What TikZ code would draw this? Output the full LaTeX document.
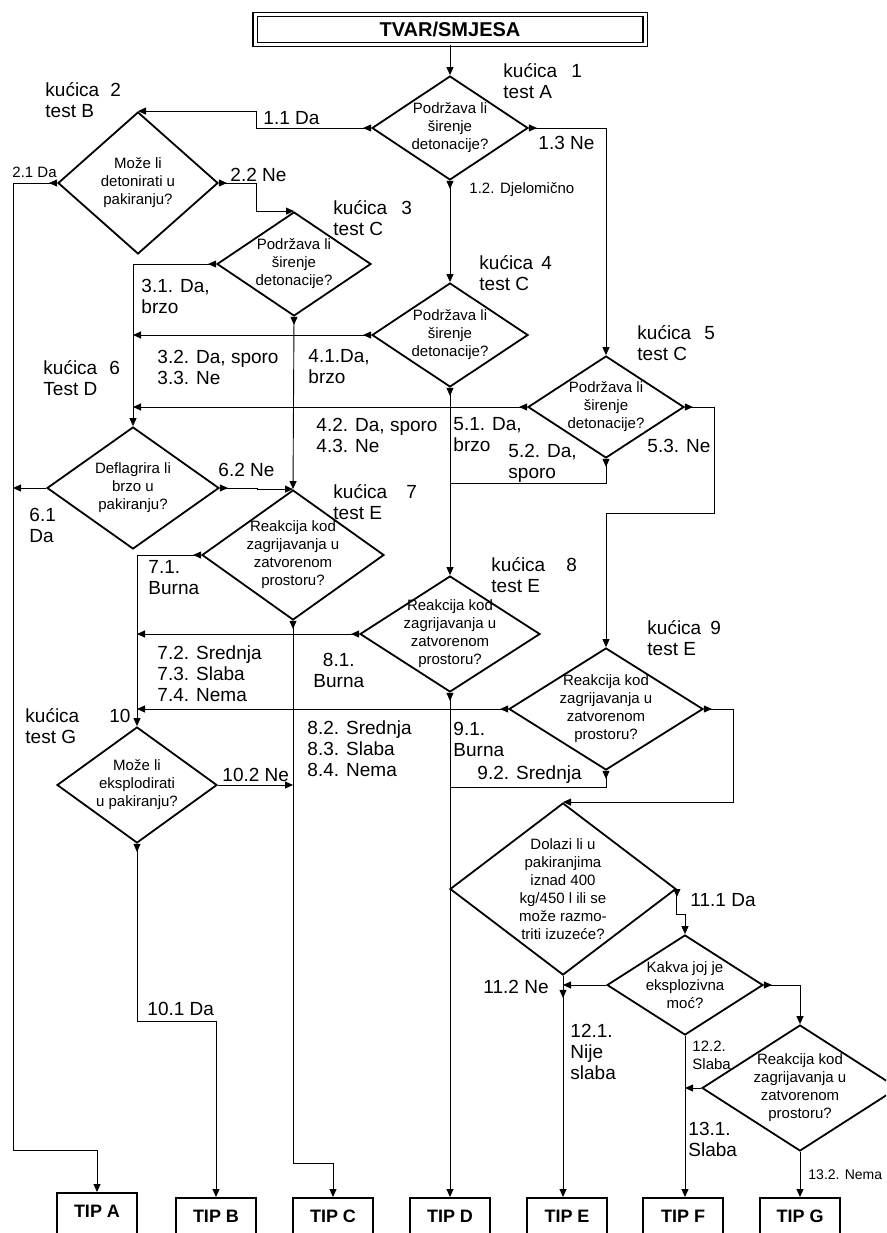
\documentclass[tikz,border=0pt]{standalone}
\usepackage{fontspec}
\setmainfont{Liberation Sans}
\usetikzlibrary{shapes.geometric,arrows.meta,decorations.markings}
\tikzset{
  titlebox/.style={draw, double, double distance=3pt, line width=1.2pt, minimum width=390pt,
    minimum height=30pt, inner sep=0pt, font=\bfseries\fontsize{20}{22}\selectfont},
  dia/.style 2 args={diamond, draw, line width=1.8pt, inner sep=-20pt, align=center,
    minimum width=#1, minimum height=#2, font=\fontsize{15}{18}\selectfont},
  tipbox/.style={draw, line width=1.5pt, anchor=north, minimum width=80pt, inner xsep=0pt,
    inner ysep=12pt, text height=13pt, text depth=40pt, font=\bfseries\fontsize{18}{20}\selectfont},
  lab/.style={anchor=west, align=left, inner sep=0pt, font=\fontsize{19}{21}\selectfont},
  slab/.style={anchor=west, align=left, inner sep=0pt, font=\fontsize{15}{18}\selectfont},
  exitat/.style={postaction={decorate, decoration={markings,
    mark=at position #1 with {\arrow{Triangle[length=8pt,width=7pt]}}}}},
  exit/.style={exitat=8pt}
}
\begin{document}
\begin{tikzpicture}[x=1pt, y=-1pt, line width=0.9pt, >={Triangle[length=8pt,width=7pt]}]
\useasboundingbox (0,0) rectangle (886,1233);
\clip (0,0) rectangle (886,1233);
% pocetak
\node[titlebox] (title) at (450,29.5) {TVAR/SMJESA};
% kucice
\node[dia={156pt}{104pt}] (d1) at (450,128) {Podržava li\\širenje\\detonacije?};
\node[dia={160pt}{142pt}] (d2) at (138,183) {Može li\\detonirati u\\pakiranju?};
\node[dia={154pt}{104pt}] (d3) at (294,264) {Podržava li\\širenje\\detonacije?};
\node[dia={156pt}{104pt}] (d4) at (450,335) {Podržava li\\širenje\\detonacije?};
\node[dia={156pt}{102pt}] (d5) at (606,407) {Podržava li\\širenje\\detonacije?};
\node[dia={172pt}{122pt}] (d6) at (133,488) {Deflagrira li\\brzo u\\pakiranju?};
\node[dia={182pt}{130pt}] (d7) at (293,555) {Reakcija kod\\zagrijavanja u\\zatvorenom\\prostoru?};
\node[dia={180pt}{116pt}] (d8) at (450,634) {Reakcija kod\\zagrijavanja u\\zatvorenom\\prostoru?};
\node[dia={194pt}{122pt}] (d9) at (606,709) {Reakcija kod\\zagrijavanja u\\zatvorenom\\prostoru?};
\node[dia={160pt}{116pt}] (d10) at (137,785) {Može li\\eksplodirati\\u pakiranju?};
\node[dia={226pt}{172pt}] (d11) at (563,889) {Dolazi li u\\pakiranjima\\iznad 400\\kg/450 l ili se\\može razmo-\\triti izuzeće?};
\node[dia={156pt}{100pt}] (d12) at (685,985) {Kakva joj je\\eksplozivna\\moć?};
\node[dia={196pt}{126pt}] (d13) at (800,1088) {Reakcija kod\\zagrijavanja u\\zatvorenom\\prostoru?};
% tipovi
\node[tipbox] (tipA) at (97,1192) {TIP A};
\node[tipbox] (tipB) at (216,1197) {TIP B};
\node[tipbox] (tipC) at (333,1197) {TIP C};
\node[tipbox] (tipD) at (450,1197) {TIP D};
\node[tipbox] (tipE) at (567,1197) {TIP E};
\node[tipbox] (tipF) at (683,1197) {TIP F};
\node[tipbox] (tipG) at (800,1197) {TIP G};
\coordinate (railA) at (13,1150);
\coordinate (railC) at (293,1163);
% veze
\draw[->] (title) -- (d1.north);
\draw[exit,->] (d1.west) -- ++(-115,0) |- (d2.north);
\draw[exit,->] (d1.south) -- (d4.north);
\draw[exit,->] (d1.east) -| (d5.north);
\draw[exit,->] (d2.west) -| (railA) -| (tipA.north);
\draw[exit,->] (d2.east) -- ++(38,0) |- (d3.north);
\draw[exit,->] (d3.west) -| (d6.north);
\draw[exit,->] (d3.south) -- (d7.north);
\draw[exit,->] (d4.west) -- (d4.west -| d6.north);
\draw[exit,->] (d4.south) -- (d8.north);
\draw[exit,->] (d5.west) -- (d5.west -| d6.north);
\draw[exit] (d5.south) -- ++(0,25) -- ++(-156,0);
\draw[exit,->] (d5.east) -- ++(30,0) -- ++(0,106) -| (d9.north);
\draw[->] (d6.west) -- (d6.west -| railA);
\draw[exit,->] (d6.east) -- ++(38,0) |- (d7.north);
\draw[exit,->] (d7.west) -| (d10.north);
\draw[exit,->] (d7.south) -- (railC) -| (tipC.north);
\draw[exit,->] (d8.west) -- (d8.west -| d10.north);
\draw[exit,->] (d8.south) -- (d8.south |- tipD.north);
\draw[exit,->] (d9.west) -- (d9.west -| d10.north);
\draw[exit] (d9.south) -- ++(0,17) -- ++(-156,0);
\draw[exit,->] (d9.east) -- ++(30,0) |- (d11.north);
\draw[exit,->] (d10.south) -- ++(0,178) -| (tipB.north);
\draw[->] (d10.east) -- (d10.east -| railC);
\draw[exit,->] (d11.east) -- ++(0,25) -| (d12.north);
\draw[exitat=22pt,->] (d11.south) -- (d11.south |- tipE.north);
\draw[->] (d12.west) -- (d12.west -| d11.south);
\draw[->] (d12.south) -- (d12.south |- tipF.north);
\draw[exit,->] (d12.east) -| (d13.north);
\draw[->] (d13.west) -- (d13.west -| d12.south);
\draw[->] (d13.south) -- (d13.south |- tipG.north);
% oznake kucica
\node[lab] (k1) at (503,81) {kućica\hspace{14pt}1\\test A};
\node[lab] (k2) at (45,100) {kućica\hspace{11pt}2\\test B};
\node[lab] (k3) at (333,218) {kućica\hspace{14pt}3\\test C};
\node[lab] (k4) at (479,273) {kućica\hspace{8pt}4\\test C};
\node[lab] (k5) at (637,343) {kućica\hspace{13pt}5\\test C};
\node[lab] (k6) at (43,378) {kućica\hspace{12pt}6\\Test D};
\node[lab] (k7) at (333,502) {kućica\hspace{19pt}7\\test E};
\node[lab] (k8) at (491,575) {kućica\hspace{21pt}8\\test E};
\node[lab] (k9) at (647,638) {kućica\hspace{9pt}9\\test E};
\node[lab] (k10) at (25,726) {kućica\hspace{30pt}10\\test G};
% odgovori
\node[lab] (a11) at (263,118) {1.1 Da};
\node[slab] (a12) at (469,190) {1.2. Djelomično};
\node[lab] (a13) at (538,143) {1.3 Ne};
\node[slab] (a21) at (12,172) {2.1 Da};
\node[lab] (a22) at (230,175) {2.2 Ne};
\node[lab] (a31) at (141,296) {3.1. Da,\\brzo};
\node[lab] (a32) at (157,367) {3.2. Da, sporo\\3.3. Ne};
\node[lab] (a41) at (308,367) {4.1.Da,\\brzo};
\node[lab] (a42) at (316,435) {4.2. Da, sporo\\4.3. Ne};
\node[lab] (a51) at (453,435) {5.1. Da,\\brzo};
\node[lab] (a52) at (508,463) {5.2. Da,\\sporo};
\node[lab] (a53) at (647,446) {5.3. Ne};
\node[lab] (a61) at (29,525) {6.1\\Da};
\node[lab] (a62) at (218,470) {6.2 Ne};
\node[lab] (a71) at (148,578) {7.1.\\Burna};
\node[lab] (a72) at (157,674) {7.2. Srednja\\7.3. Slaba\\7.4. Nema};
\node[lab, align=center] (a81) at (313,670) {8.1.\\Burna};
\node[lab] (a82) at (307,749) {8.2. Srednja\\8.3. Slaba\\8.4. Nema};
\node[lab] (a91) at (453,739) {9.1.\\Burna};
\node[lab] (a92) at (477,775) {9.2. Srednja};
\node[lab] (a101) at (147,1009) {10.1 Da};
\node[lab] (a102) at (222,775) {10.2 Ne};
\node[lab] (a111) at (690,900) {11.1 Da};
\node[lab] (a112) at (483,987) {11.2 Ne};
\node[lab] (a121) at (570,1052) {12.1.\\Nije\\slaba};
\node[slab] (a122) at (692,1055) {12.2.\\Slaba};
\node[lab] (a131) at (688,1139) {13.1.\\Slaba};
\node[slab, font=\fontsize{14}{17}\selectfont] (a132) at (808,1175) {13.2. Nema};
\end{tikzpicture}
\end{document}
